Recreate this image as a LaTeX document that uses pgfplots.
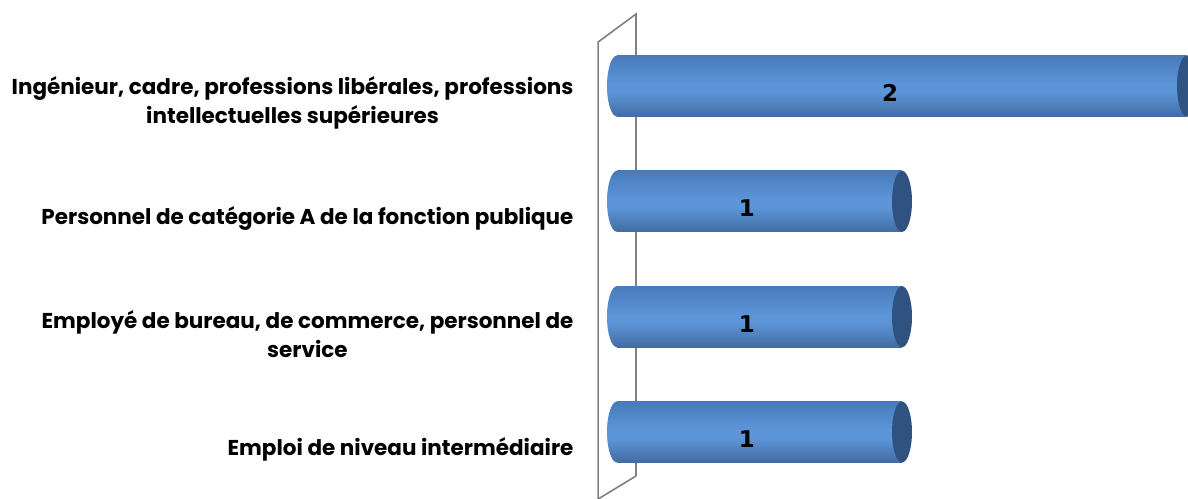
\documentclass[border=0pt]{standalone}
\usepackage{fontspec}
\setmainfont{Poppins}
\newfontfamily\numfont{DejaVu Sans}
\usepackage{pgfplots}
\pgfplotsset{compat=1.18}
\definecolor{bartop}{HTML}{3C6AA8}
\definecolor{barmid}{HTML}{5C95D8}
\definecolor{barbot}{HTML}{1F3558}
\definecolor{capcol}{HTML}{2F5280}
\definecolor{wallcol}{HTML}{808080}
\pgfdeclareverticalshading{barshade}{100bp}{color(0bp)=(barbot); color(12bp)=(barbot!70!barmid); color(45bp)=(barmid); color(52bp)=(barmid); color(85bp)=(bartop!90!barmid); color(100bp)=(bartop)}
\pgfdeclareplotmark{lcap}{%
  \pgfpathellipse{\pgfpointorigin}{\pgfqpoint{10bp}{0pt}}{\pgfqpoint{0pt}{30.5bp}}%
  \pgfshadepath{barshade}{0}\pgfusepath{}}
\pgfdeclareplotmark{rcap}{%
  \pgfpathellipse{\pgfpointorigin}{\pgfqpoint{10bp}{0pt}}{\pgfqpoint{0pt}{30.5bp}}%
  \pgfusepath{fill}}
\pgfplotsset{cyl/.style={xbar, bar width=61bp, draw=none, shading=barshade}}
\begin{document}
\begin{tikzpicture}
\begin{axis}[
  name=ax,
  scale only axis,
  width=591bp, height=499bp,
  xmin=-0.0702, xmax=2.0035,
  ymin=-0.581, ymax=3.746,
  axis line style={draw=none},
  tick style={draw=none},
  major tick length=0pt,
  xtick=\empty,
  ytick={0,1,2,3},
  yticklabels={
    {Emploi de niveau interm\'ediaire},
    {Employ\'e de bureau, de commerce, personnel de\\service},
    {Personnel de cat\'egorie A de la fonction publique},
    {Ing\'enieur, cadre, professions lib\'erales, professions\\intellectuelles sup\'erieures}},
  yticklabel style={align=center, font=\fontsize{21.5bp}{29bp}\selectfont\bfseries, yshift=-17bp, xshift=-20bp},
  clip marker paths=true,
]
% 3D wall
\draw[wallcol, line width=1.6bp] (axis cs:0.0667,-0.3815) -- (axis cs:0.0667,3.624) -- (axis cs:-0.066,3.382) -- (axis cs:-0.066,-0.581);
\draw[wallcol, line width=1.6bp] (axis cs:0.0667,-0.3815) -- (axis cs:-0.066,-0.581);
% left caps
\addplot[only marks, mark=lcap] coordinates {(0,0) (0,1) (0,2) (0,3)};
% bars, one per plot so each has its own shading
\addplot[cyl] coordinates {(1,0)};
\addplot[cyl] coordinates {(1,1)};
\addplot[cyl] coordinates {(1,2)};
\addplot[cyl] coordinates {(2,3)};
% right caps
\addplot[only marks, mark=rcap, mark options={fill=capcol, draw=none}] coordinates {(1,0) (1,1) (1,2) (2,3)};
% value labels
\addplot[only marks, mark=none, nodes near coords, point meta=explicit symbolic,
  every node near coord/.style={anchor=center, font=\numfont\bfseries\fontsize{23bp}{26bp}\selectfont, yshift=-7bp, text=black}]
  coordinates {(0.456,0) [1] (0.456,1) [1] (0.456,2) [1] (0.958,3) [2]};
\end{axis}
\pgfresetboundingbox
\path ([xshift=-597bp]ax.south west) rectangle (ax.north east);
\end{tikzpicture}
\end{document}
